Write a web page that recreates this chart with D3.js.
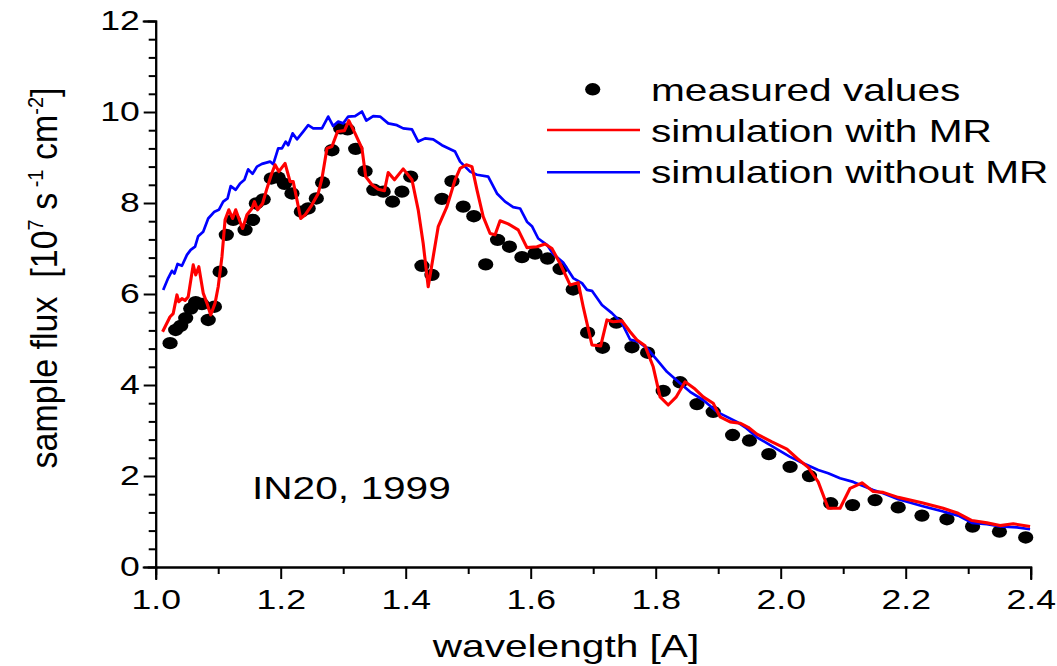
<!DOCTYPE html>
<html><head><meta charset="utf-8">
<script src="https://cdn.jsdelivr.net/npm/d3@7"></script>
<style>body{margin:0;background:#fff}svg{display:block}</style>
</head><body>
<svg id="chart" width="1057" height="666"></svg>
<script>
// ---- data ----
const measuredWavelength = [1.023,1.032,1.040,1.048,1.056,1.064,1.074,1.084,1.094,1.103,1.113,1.124,1.143,1.155,1.161,1.172,1.185,1.196,1.206,1.218,1.233,1.244,1.257,1.267,1.282,1.296,1.307,1.320,1.335,1.349,1.364,1.379,1.394,1.408,1.426,1.442,1.458,1.474,1.492,1.509,1.528,1.547,1.566,1.586,1.607,1.627,1.647,1.668,1.691,1.715,1.737,1.762,1.787,1.812,1.839,1.866,1.892,1.923,1.950,1.981,2.015,2.046,2.080,2.115,2.151,2.188,2.226,2.266,2.307,2.350,2.392];
const measuredFlux = [4.92,5.21,5.30,5.47,5.68,5.82,5.78,5.43,5.72,6.49,7.30,7.63,7.41,7.63,7.99,8.08,8.54,8.56,8.42,8.21,7.81,7.88,8.10,8.45,9.16,9.64,9.62,9.19,8.70,8.29,8.25,8.03,8.25,8.58,6.62,6.42,8.09,8.48,7.92,7.71,6.65,7.19,7.04,6.81,6.89,6.78,6.55,6.10,5.15,4.82,5.37,4.83,4.71,3.87,4.06,3.58,3.41,2.90,2.78,2.48,2.20,2.00,1.40,1.36,1.47,1.31,1.13,1.05,0.89,0.78,0.65];

const mrWavelength = [1.011,1.023,1.028,1.034,1.037,1.042,1.047,1.052,1.060,1.064,1.069,1.076,1.082,1.088,1.095,1.100,1.106,1.111,1.117,1.123,1.128,1.133,1.139,1.146,1.154,1.158,1.163,1.171,1.178,1.185,1.191,1.197,1.207,1.215,1.220,1.226,1.232,1.239,1.250,1.260,1.266,1.274,1.282,1.291,1.302,1.309,1.319,1.330,1.336,1.346,1.356,1.366,1.372,1.382,1.396,1.410,1.420,1.428,1.436,1.444,1.452,1.466,1.479,1.487,1.497,1.506,1.514,1.524,1.535,1.543,1.551,1.564,1.580,1.594,1.610,1.623,1.634,1.647,1.663,1.676,1.684,1.698,1.712,1.722,1.732,1.746,1.759,1.770,1.783,1.796,1.807,1.820,1.833,1.847,1.863,1.876,1.892,1.903,1.919,1.935,1.948,1.962,1.986,2.010,2.026,2.044,2.060,2.076,2.095,2.111,2.130,2.148,2.164,2.188,2.226,2.260,2.284,2.306,2.330,2.351,2.372,2.399];
const mrFlux = [5.17,5.50,5.57,5.98,5.83,5.90,5.86,5.94,6.64,6.42,6.60,6.02,5.80,5.54,5.80,6.16,6.82,7.63,7.85,7.66,7.85,7.66,7.44,7.74,7.88,8.03,7.85,7.99,8.32,8.62,8.84,8.69,8.87,8.47,8.47,8.07,7.66,7.74,7.96,8.21,8.54,9.20,9.24,9.57,9.59,9.81,9.53,9.20,8.58,8.40,8.30,8.27,8.67,8.51,8.75,8.51,7.85,7.11,6.16,6.82,7.48,7.92,8.51,8.76,8.84,8.80,8.29,7.70,7.33,7.30,7.61,7.54,7.41,7.02,7.04,7.10,7.00,6.67,6.20,6.25,5.72,4.88,4.86,5.43,5.39,5.41,5.17,4.99,4.86,4.40,3.74,3.56,3.74,4.07,3.91,3.74,3.60,3.30,3.19,3.16,3.07,2.92,2.75,2.59,2.39,2.19,1.87,1.29,1.29,1.73,1.85,1.66,1.64,1.53,1.41,1.29,1.18,1.02,0.97,0.91,0.95,0.89];

const noMrWavelength = [1.012,1.020,1.026,1.030,1.035,1.042,1.050,1.056,1.063,1.068,1.076,1.084,1.094,1.101,1.108,1.115,1.120,1.128,1.135,1.142,1.148,1.155,1.162,1.170,1.183,1.188,1.196,1.202,1.208,1.212,1.219,1.226,1.236,1.244,1.252,1.266,1.276,1.284,1.292,1.300,1.308,1.319,1.330,1.337,1.348,1.359,1.372,1.386,1.396,1.410,1.420,1.431,1.444,1.458,1.479,1.487,1.503,1.514,1.532,1.546,1.559,1.572,1.583,1.594,1.602,1.612,1.626,1.636,1.652,1.668,1.682,1.690,1.698,1.714,1.730,1.746,1.759,1.772,1.786,1.802,1.818,1.839,1.855,1.876,1.898,1.914,1.930,1.945,1.962,1.988,2.015,2.036,2.060,2.076,2.095,2.116,2.148,2.164,2.188,2.226,2.260,2.284,2.306,2.330,2.351,2.378,2.399];
const noMrFlux = [6.09,6.35,6.51,6.45,6.66,6.62,6.86,6.97,7.04,7.27,7.37,7.66,7.81,7.85,8.03,8.10,8.37,8.29,8.43,8.51,8.74,8.64,8.80,8.86,8.91,8.85,9.20,9.20,9.35,9.27,9.53,9.40,9.57,9.71,9.64,9.64,9.90,9.69,9.79,9.75,9.90,9.91,10.01,9.81,9.91,9.90,9.75,9.71,9.64,9.62,9.35,9.42,9.40,9.27,9.13,8.91,8.69,8.62,8.58,8.21,8.03,7.91,7.88,7.59,7.49,7.22,7.08,6.88,6.69,6.35,6.24,6.09,6.07,5.76,5.58,5.36,5.00,4.95,4.81,4.55,4.29,4.04,3.85,3.67,3.41,3.30,3.19,3.05,2.85,2.64,2.42,2.28,2.13,2.06,1.95,1.87,1.69,1.62,1.49,1.34,1.22,1.13,0.97,0.94,0.89,0.87,0.83];

const xTickValues = [1.0,1.2,1.4,1.6,1.8,2.0,2.2,2.4];
const xTickLabels = ["1.0","1.2","1.4","1.6","1.8","2.0","2.2","2.4"];
const xMinorTicks = [1.1,1.3,1.5,1.7,1.9,2.1,2.3];
const yTickValues = [0,2,4,6,8,10,12];
const yTickLabels = ["0","2","4","6","8","10","12"];
const seriesNames = ["measured values","simulation with MR","simulation without MR"];
const seriesColors = ["#000000","#ff0000","#0000ff"];
const annotation = "IN20, 1999";

// ---- layout ----
const SX = 1.27;          // horizontal stretch of lettering
const FONT = "'Liberation Sans', Arial, Helvetica, sans-serif";
const svg = d3.select("#chart");
const x = d3.scaleLinear().domain([1.0, 2.4]).range([155.7, 1030.7]);
const y = d3.scaleLinear().domain([0, 12]).range([567, 21]);

const measured = measuredWavelength.map((w,i)=>({w, f: measuredFlux[i]}));
const withMR = mrWavelength.map((w,i)=>({w, f: mrFlux[i]}));
const withoutMR = noMrWavelength.map((w,i)=>({w, f: noMrFlux[i]}));

// measured points
svg.append("g").selectAll("ellipse").data(measured).join("ellipse")
  .attr("cx", d=>x(d.w)).attr("cy", d=>y(d.f))
  .attr("rx", 7.6).attr("ry", 6.2).attr("fill", seriesColors[0]);

const line = d3.line().x(d=>x(d.w)).y(d=>y(d.f));
svg.append("path").datum(withoutMR).attr("d", line)
  .attr("fill","none").attr("stroke", seriesColors[2]).attr("stroke-width", 2.7).attr("stroke-linejoin","round");
svg.append("path").datum(withMR).attr("d", line)
  .attr("fill","none").attr("stroke", seriesColors[1]).attr("stroke-width", 3.1).attr("stroke-linejoin","round");

// axes
function styleAxis(g){
  g.select(".domain").attr("stroke","#000").attr("stroke-width",2);
  g.selectAll(".tick line").attr("stroke","#000").attr("stroke-width",2);
}
const gxMinor = svg.append("g").attr("transform","translate(0,567)")
  .call(d3.axisBottom(x).tickValues(xMinorTicks).tickSize(7).tickFormat(""));
styleAxis(gxMinor);
const gx = svg.append("g").attr("transform","translate(0,567)")
  .call(d3.axisBottom(x).tickValues(xTickValues).tickSize(12).tickPadding(10)
        .tickFormat((d,i)=>xTickLabels[i]));
styleAxis(gx);
gx.selectAll("text").attr("font-family",FONT).attr("font-size",28).attr("fill","#000")
  .attr("transform",`scale(${SX},1)`);

const yMinor = d3.range(0, 12.001, 0.4).filter(v => Math.abs(v/2 - Math.round(v/2)) > 0.01);
const gyMinor = svg.append("g").attr("transform","translate(155.7,0)")
  .call(d3.axisLeft(y).tickValues(yMinor).tickSize(7).tickFormat(""));
styleAxis(gyMinor);
const gy = svg.append("g").attr("transform","translate(155.7,0)")
  .call(d3.axisLeft(y).tickValues(yTickValues).tickSize(12).tickPadding(4)
        .tickFormat((d,i)=>yTickLabels[i]));
styleAxis(gy);
gy.selectAll("text").attr("font-family",FONT).attr("font-size",28).attr("fill","#000")
  .attr("x", -16/SX).attr("transform",`scale(${SX},1)`);
svg.selectAll(".domain").attr("stroke-linecap","square");

// stretched text helper
function label(gx0, gy0, txt, size, anchor){
  const g = svg.append("g").attr("transform",`translate(${gx0},${gy0}) scale(${SX},1)`);
  return g.append("text").attr("font-family",FONT).attr("font-size",size)
    .attr("text-anchor",anchor||"start").attr("fill","#000").text(txt);
}

// x label
label(566, 657, "wavelength [A]", 32, "middle");

// y label (rotated)
const yl = svg.append("g").attr("transform","translate(57,278) rotate(-90) scale(1,1.1)")
  .append("text").attr("font-family",FONT).attr("font-size",34).attr("text-anchor","middle").attr("fill","#000");
yl.append("tspan").text("sample flux\u00a0\u00a0[10");
yl.append("tspan").attr("baseline-shift","60%").attr("font-size",20).text("7");
yl.append("tspan").text("\u00a0s");
yl.append("tspan").attr("baseline-shift","60%").attr("font-size",20).text("\u00a0-1");
yl.append("tspan").text("\u00a0cm");
yl.append("tspan").attr("baseline-shift","60%").attr("font-size",20).text("-2");
yl.append("tspan").text("]");

// annotation
label(252, 499, annotation, 32);

// legend
const legend = svg.append("g");
legend.append("ellipse").attr("cx",592.7).attr("cy",89.3).attr("rx",7.6).attr("ry",6.2).attr("fill",seriesColors[0]);
legend.append("line").attr("x1",547).attr("x2",640).attr("y1",130).attr("y2",130)
  .attr("stroke",seriesColors[1]).attr("stroke-width",2.6);
legend.append("line").attr("x1",547).attr("x2",640).attr("y1",172.3).attr("y2",172.3)
  .attr("stroke",seriesColors[2]).attr("stroke-width",2.6);
label(651, 100.7, seriesNames[0], 32);
label(651, 141.7, seriesNames[1], 32);
label(651, 183.3, seriesNames[2], 32);
</script>
</body></html>
